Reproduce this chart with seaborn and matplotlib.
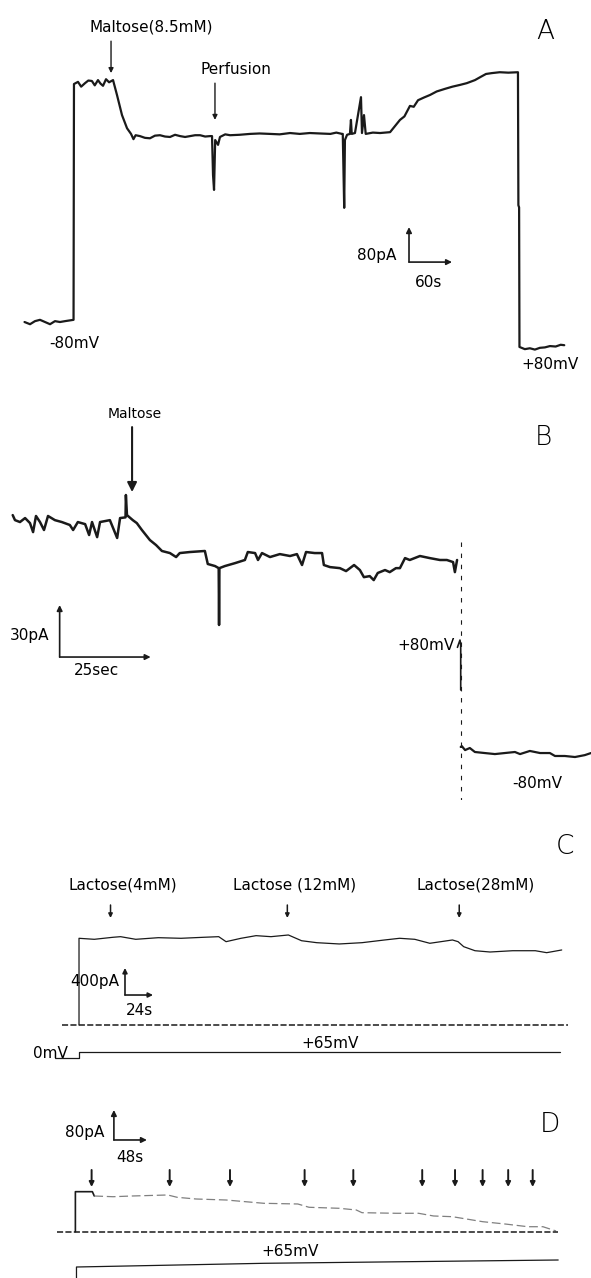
import matplotlib
matplotlib.use("Agg")
import matplotlib.pyplot as plt
import seaborn as sns

sns.set_theme(style="white")
plt.rcParams['font.family'] = ['DejaVu Sans']
plt.rcParams['text.color'] = 'black'

# ---------------- Panel A : maltose (8.5mM), current in pA vs time in s
a_time = [0, 7.7, 14.6, 21.6, 28.6, 35.6, 42.5, 49.5, 56.5, 68.4,
          69, 74.6, 79, 84.4, 89, 94, 98, 102.5, 106, 109.5, 113.7, 118, 123.5,
          129, 136, 143, 148.6, 152, 155, 161, 168, 175, 182, 189, 196, 203, 210,
          217, 224, 231, 238, 245, 252, 259, 261.6, 263, 264.4, 266, 270, 272.7,
          280, 286.7, 300, 314.6, 328, 342.5, 356, 370.4, 384, 398, 412, 426.7,
          435, 443, 444, 446, 447, 450, 454, 455.4, 456.5, 461, 469.4, 470.8,
          473.6, 476, 486, 496, 510, 523.8, 530, 537.7, 543, 549, 557, 565.7,
          575, 586.6, 597, 607.5, 617, 628.4, 636, 643.8, 652, 663, 675, 688.4,
          689, 690, 690.5, 698, 705, 712, 719, 726, 733, 741, 748, 753]
a_current = [0, -5, 2, 5, 0, -5, 2, 0, 2, 5,
             544, 549, 538, 546, 552, 551, 541, 553, 545, 540, 555, 548, 553,
             519, 473, 443, 430, 418, 427, 425, 421, 420, 426, 427, 424, 423, 428,
             425, 423, 425, 427, 427, 424, 425, 425, 336, 302, 416, 405, 423,
             429, 427, 428, 430, 431, 430, 429, 432, 430, 432, 431, 430,
             433, 430, 430, 261, 416, 428, 430, 462, 430, 432, 514, 432,
             473, 430, 433, 432, 434, 462, 470, 494, 492, 507, 513, 519,
             527, 533, 538, 542, 546, 553, 560, 567, 569, 571, 570, 571,
             267, 262, -57, -62, -60, -63, -59, -58, -55, -56, -52, -53]

# ---------------- Panel B : maltose, current in pA vs time in s
b_time = [0, 0.63, 2.0, 3.4, 4.75, 5.6, 6.4, 7.5, 8.6, 9.7, 11.6, 13.5, 15.7,
          16.6, 17.9, 19.9, 21.0, 21.8, 23.2, 24.0, 26.7, 28.7, 29.5, 31.0, 31.1,
          31.4, 33.0, 34.1, 35.5, 37.7, 39.4, 41.0, 43.2, 44.9, 45.9, 48.7, 52.8,
          53.6, 55.6, 56.6, 56.7, 56.8, 58.3, 61.1, 63.8, 64.6, 66.6, 67.4, 68.5,
          70.7, 73.4, 76.2, 78.1, 79.5, 80.6, 83.0, 85.0, 85.5, 87.2, 89.9, 91.6,
          93.8, 95.4, 96.5, 98.1, 99.2, 100.3, 102.3, 103.6, 105.3, 106.4, 107.8,
          109.1, 111.9, 114.6, 117.4, 119.3, 121.0, 121.5, 122.1]
b_current = [137.3, 134.4, 133.3, 135.6, 132.7, 127.5, 136.8, 133.3, 128.7,
             136.8, 134.4, 133.3, 131.6, 128.7, 133.3, 132.1, 125.8, 133.3, 124.6,
             133.3, 134.4, 124.1, 135.6, 136.0, 148.9, 137.3, 134.4, 132.7, 128.7,
             122.9, 120.0, 116.6, 115.4, 113.1, 115.4, 116.0, 116.6, 109.1, 107.9,
             106.7, 73.9, 106.7, 107.9, 109.6, 111.4, 116.0, 115.4, 111.4, 115.4,
             113.1, 114.8, 113.7, 114.8, 108.5, 116.0, 115.4, 115.4, 108.5, 107.3,
             106.7, 105.0, 108.5, 105.6, 101.5, 102.1, 99.8, 103.9, 105.6, 104.4,
             106.7, 106.7, 112.5, 111.4, 113.7, 112.5, 111.4, 111.4, 110.2, 104.4,
             111.4]
b_step_time = [123.1, 123.1]
b_step_current = [121.7, -27.1]
b_hook_time = [122.2, 122.9, 123.1, 123.1]
b_hook_current = [61.0, 65.2, 62.5, 36.4]
b_neg_time = [123.1, 123.4, 124.3, 125.6, 127.0, 129.7, 132.5, 135.2, 138.0,
              139.4, 142.1, 144.9, 147.6, 149.0, 151.7, 154.5, 157.2, 158.9]
b_neg_current = [3.5, 4.0, 1.7, 2.9, 0.6, 0, -0.6, 0, 0.6, -0.6, 1.2, 0, 0,
                 -1.7, -1.7, -2.3, -1.2, 0]

# ---------------- Panel C : lactose, current in pA, holding +65mV
c_time = [0, 0, 13.1, 29.1, 35.6, 48.6, 68.0, 87.4, 106.8, 119.7, 126.0, 138.8,
          151.7, 164.5, 179.4, 190.7, 203.7, 223.0, 242.5, 261.8, 274.7, 287.7,
          300.6, 320.0, 324.8, 329.6, 339.3, 352.2, 371.6, 391.0, 400.7, 413.6]
c_current = [0, 1284, 1269, 1299, 1308, 1269, 1293, 1284, 1299, 1308, 1234,
             1284, 1323, 1308, 1333, 1248, 1219, 1200, 1219, 1259, 1284, 1269,
             1210, 1259, 1234, 1160, 1100, 1081, 1100, 1100, 1071, 1111]
c_base_time = [-14.6, 419]
c_base_current = [0, 0]
c_volt_time = [-20.6, 0, 0, 412]
c_volt_mv = [0, 0, 65, 65]
c_labels = ["Lactose(4mM)", "Lactose (12mM)", "Lactose(28mM)"]
c_label_time = [37.3, 184.3, 340.0]
c_arrow_time = [27.0, 178.5, 325.8]

# ---------------- Panel D : repeated additions, current in pA, holding +65mV
d_time = [0, 0, 24.7, 27.5, 54.7, 82.3, 134.3, 148.0, 175.4, 219.3, 274.2,
          323.4, 339.7, 383.7, 408.4, 416.7, 466.0, 498.9, 520.8, 548.2, 592.1,
          624.9, 657.8, 679.8, 698.9]
d_current = [0, 106.7, 106.7, 95.2, 93.3, 95.2, 97.9, 91.7, 87.2, 84.5, 75.7,
             73.9, 65.1, 62.4, 57.9, 50.7, 49.1, 49.1, 41.9, 40.0, 26.7, 20.5,
             13.3, 13.3, 1.9]
d_base_time = [-27.3, 701.7]
d_base_current = [0, 0]
d_volt_time = [1.6, 1.6, 274, 702]
d_volt_mv = [0, 65, 68.7, 72]
d_arrow_time = [23.6, 137.1, 224.8, 333.3, 404.1, 504.3, 552.0, 592.1, 629.3, 664.9]


def trace(ax, x, y, **kw):
    sns.lineplot(x=x, y=y, ax=ax, estimator=None, sort=False, legend=False, **kw)


def scalebar(ax, x0, y0, dx, dy, lw=1.2, ms=8):
    props = dict(arrowstyle="-|>", color="k", lw=lw, mutation_scale=ms,
                 shrinkA=0, shrinkB=0)
    ax.annotate("", xy=(x0, y0 + dy), xytext=(x0, y0), arrowprops=props)
    ax.annotate("", xy=(x0 + dx, y0), xytext=(x0, y0), arrowprops=props)


def down_arrow(ax, x, ytop, ybot, lw=1.0, ms=7):
    ax.annotate("", xy=(x, ybot), xytext=(x, ytop),
                arrowprops=dict(arrowstyle="-|>", color="k", lw=lw,
                                mutation_scale=ms, shrinkA=0, shrinkB=0))


fig = plt.figure(figsize=(5.91, 12.78), dpi=100)
H = 1278.0
ax_a = fig.add_axes([0, (H - 390) / H, 1, 390 / H])
ax_b = fig.add_axes([0, (H - 800) / H, 1, 410 / H])
ax_c = fig.add_axes([0, (H - 1075) / H, 1, 275 / H])
ax_d = fig.add_axes([0, 0, 1, 203 / H])
ax_cv = ax_c.twinx()
ax_dv = ax_d.twinx()

fs = 11
big = dict(ha="center", va="center", fontsize=19, fontweight="light")

# ---- A
trace(ax_a, a_time, a_current, color="k", lw=1.6)
ax_a.set_xlim(-34.2, 790.3)
ax_a.set_ylim(-155.4, 736.1)
ax_a.text(176.6, 674, "Maltose(8.5mM)", ha="center", va="center", fontsize=fs)
down_arrow(ax_a, 120.7, 642, 569)
ax_a.text(295, 578, "Perfusion", ha="center", va="center", fontsize=fs)
down_arrow(ax_a, 265.7, 546, 462)
ax_a.text(726, 665, "A", **big)
ax_a.text(69, -48, "-80mV", ha="center", va="center", fontsize=fs)
ax_a.text(733, -98, "+80mV", ha="center", va="center", fontsize=fs)
scalebar(ax_a, 536.4, 137, 60, 80)
ax_a.text(491.7, 153, "80pA", ha="center", va="center", fontsize=fs)
ax_a.text(563, 91, "60s", ha="center", va="center", fontsize=fs)

# ---- B
trace(ax_b, b_time, b_current, color="k", lw=1.8)
trace(ax_b, b_step_time, b_step_current, color="k", lw=0.8, linestyle=(0, (4, 6)))
trace(ax_b, b_hook_time, b_hook_current, color="k", lw=1.2)
trace(ax_b, b_neg_time, b_neg_current, color="k", lw=1.6)
ax_b.set_xlim(-3.49, 158.9)
ax_b.set_ylim(-27.1, 209.5)
ax_b.text(33.5, 195.6, "Maltose", ha="center", va="center", fontsize=10)
down_arrow(ax_b, 32.8, 188.1, 150.6, lw=1.5, ms=14)
ax_b.text(145.7, 182.3, "B", **big)
scalebar(ax_b, 12.9, 55.4, 25, 30)
ax_b.text(4.75, 68.1, "30pA", ha="center", va="center", fontsize=fs)
ax_b.text(22.9, 47.9, "25sec", ha="center", va="center", fontsize=fs)
ax_b.text(113.5, 62.3, "+80mV", ha="center", va="center", fontsize=fs)
ax_b.text(144.0, -17.3, "-80mV", ha="center", va="center", fontsize=fs)

# ---- C
trace(ax_c, c_time, c_current, color="k", lw=0.9)
trace(ax_c, c_base_time, c_base_current, color="k", lw=1.1, linestyle=(0, (4, 1.5)))
trace(ax_cv, c_volt_time, c_volt_mv, color="k", lw=0.9)
ax_c.set_xlim(-67.7, 438.7)
ax_c.set_ylim(-740.5, 3332)
ax_cv.set_ylim(-184, 2795)
for lab, lt, at in zip(c_labels, c_label_time, c_arrow_time):
    ax_c.text(lt, 2080, lab, ha="center", va="center", fontsize=fs)
    down_arrow(ax_c, at, 1777, 1585, lw=1.1, ms=6)
ax_c.text(416.5, 2636, "C", **big)
scalebar(ax_c, 39.4, 444, 24, 400, ms=7)
ax_c.text(13.7, 637, "400pA", ha="center", va="center", fontsize=fs)
ax_c.text(51.8, 222, "24s", ha="center", va="center", fontsize=fs)
ax_c.text(215, -267, "+65mV", ha="center", va="center", fontsize=fs)
ax_c.text(-24.8, -415, "0mV", ha="center", va="center", fontsize=fs)

# ---- D
trace(ax_d, d_time[:4], d_current[:4], color="k", lw=1.2)
trace(ax_d, d_time[3:], d_current[3:], color="0.5", lw=0.9, linestyle=(0, (7, 3)))
trace(ax_d, d_base_time, d_base_current, color="k", lw=1.1, linestyle=(0, (4, 1.5)))
trace(ax_dv, d_volt_time, d_volt_mv, color="k", lw=0.9)
ax_d.set_xlim(-109.6, 749.7)
ax_d.set_ylim(-123.5, 417.9)
ax_dv.set_ylim(54, 257)
for at in d_arrow_time:
    down_arrow(ax_d, at, 164.6, 119.2, lw=1.4, ms=7)
ax_d.text(690, 284.6, "D", **big)
scalebar(ax_d, 56.0, 244.6, 48, 80)
ax_d.text(13.7, 265.8, "80pA", ha="center", va="center", fontsize=fs)
ax_d.text(79.4, 196.6, "48s", ha="center", va="center", fontsize=fs)
ax_d.text(312, -54, "+65mV", ha="center", va="center", fontsize=fs)

for ax in [ax_a, ax_b, ax_c, ax_d, ax_cv, ax_dv]:
    ax.axis("off")
    ax.patch.set_alpha(0)

fig.savefig("out.png", dpi=100, facecolor="white")
